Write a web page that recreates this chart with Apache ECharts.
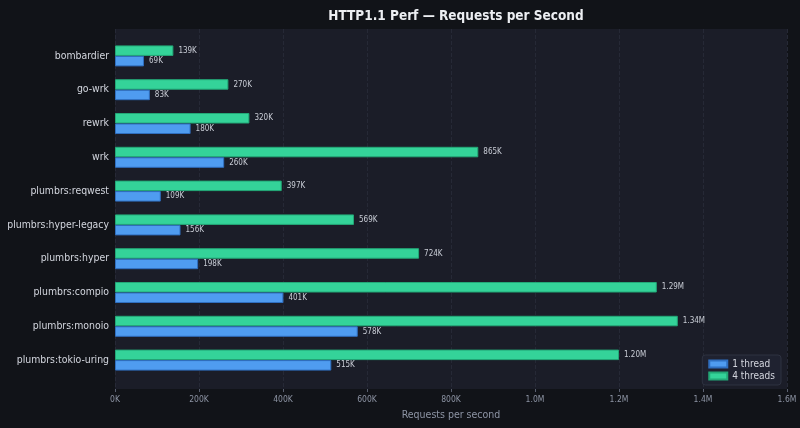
<!DOCTYPE html>
<html><head><meta charset="utf-8">
<script src="https://cdn.jsdelivr.net/npm/echarts@6/dist/echarts.min.js"></script>
<style>html,body{margin:0;padding:0;background:#111318;}#c{width:800px;height:428px;}</style>
</head><body><div id="c"></div>
<script>
const categories = ["bombardier","go-wrk","rewrk","wrk","plumbrs:reqwest","plumbrs:hyper-legacy","plumbrs:hyper","plumbrs:compio","plumbrs:monoio","plumbrs:tokio-uring"];
const oneThread = [69000,83000,180000,260000,109000,156000,198000,401000,578000,515000];
const fourThreads = [139000,270000,320000,865000,397000,569000,724000,1290000,1340000,1200000];
const xTicks = ["0K","200K","400K","600K","800K","1.0M","1.2M","1.4M","1.6M"];

const fmt = v => v >= 1e6 ? (v/1e6).toFixed(2)+'M' : Math.round(v/1000)+'K';
const font = 'DejaVu Sans Condensed, DejaVu Sans';
const chart = echarts.init(document.getElementById('c'), null, {renderer:'canvas'});
const labelCfg = {show:true, position:'right', distance:5, color:'#c9cdd6', fontSize:8, fontFamily:font, formatter:p=>fmt(p.value)};
chart.setOption({
  backgroundColor:'#111318',
  animation:false,
  title:{text:'HTTP1.1 Perf — Requests per Second', left:451, textAlign:'center', top:4,
    textStyle:{color:'#eceef2', fontSize:13.5, fontWeight:'bold', fontFamily:font}},
  grid:[
    {left:115, right:13, top:29, bottom:39, show:true, backgroundColor:'#1b1d28', borderWidth:0, containLabel:false, outerBoundsMode:'none'},
    {left:115, right:13, top:39, bottom:51, show:false, containLabel:false, outerBoundsMode:'none'}
  ],
  xAxis:[
    {gridIndex:0, type:'value', min:0, max:1600000, interval:200000,
     name:'Requests per second', nameLocation:'middle', nameGap:21,
     nameTextStyle:{color:'#8d94a4', fontSize:10.5, fontFamily:font},
     axisLine:{show:false}, axisTick:{show:true, length:3, lineStyle:{color:'#5a6070'}},
     axisLabel:{color:'#8d94a4', fontSize:8.5, fontFamily:font, margin:6, formatter:(v)=>xTicks[Math.round(v/200000)]},
     splitLine:{show:true, lineStyle:{color:'#262936', type:'dashed', width:1}}},
    {gridIndex:1, type:'value', min:0, max:1600000, show:false, splitLine:{show:false}}
  ],
  yAxis:[
    {gridIndex:0, type:'value', show:false, splitLine:{show:false}},
    {gridIndex:1, type:'category', data:categories, inverse:true,
     axisLine:{show:false}, axisTick:{show:false},
     axisLabel:{color:'#d3d6de', fontSize:10.4, fontFamily:font, margin:6}}
  ],
  legend:{orient:'vertical', right:19, bottom:43, itemWidth:18, itemHeight:7, itemGap:0,
    padding:[3,6,3,6], backgroundColor:'#1f2230', borderColor:'#2e3240', borderWidth:1, borderRadius:3,
    textStyle:{color:'#d3d6de', fontSize:10, fontFamily:font, lineHeight:12}, icon:'rect',
    data:['1 thread','4 threads']},
  series:[
    {name:'4 threads', type:'bar', xAxisIndex:1, yAxisIndex:1, data:fourThreads, barWidth:10.5, barGap:'0%',
     itemStyle:{color:'#34d399', borderColor:'#23a877', borderWidth:1}, label:labelCfg},
    {name:'1 thread', type:'bar', xAxisIndex:1, yAxisIndex:1, data:oneThread, barWidth:10.5, barGap:'0%',
     itemStyle:{color:'#4f9cf0', borderColor:'#2f6fc0', borderWidth:1}, label:labelCfg}
  ]
});
</script></body></html>
